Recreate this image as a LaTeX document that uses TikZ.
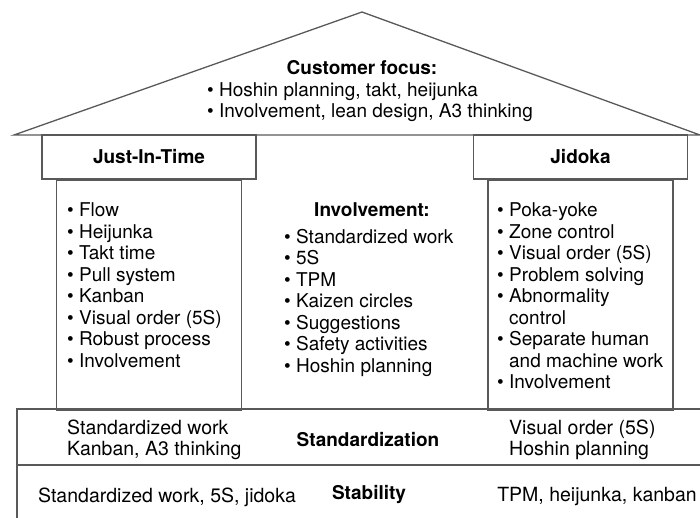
\documentclass[tikz,border=0pt]{standalone}
\usepackage{fontspec}
\setmainfont{TeX Gyre Heros}
\usetikzlibrary{positioning}
\newcommand{\bitem}{\textbullet\ }
\tikzstyle{ln} = [draw=black!65, line width=1.3pt]
\tikzstyle{hdr} = [rectangle, ln, minimum width=214pt, minimum height=44pt, text centered, font=\bfseries]
\tikzstyle{pillar} = [rectangle, ln, minimum width=185pt, minimum height=230pt]
\tikzstyle{lst} = [align=left, inner sep=0pt, anchor=west]
\tikzstyle{ttl} = [font=\bfseries, inner sep=0pt]
\tikzstyle{txt} = [inner sep=0pt]
\tikzstyle{base} = [font=\fontsize{19.5}{21.5}\selectfont]

\begin{document}
\fontsize{19}{21.5}\selectfont
\begin{tikzpicture}[x=1pt, y=-1pt]
	\useasboundingbox (0,0) rectangle (700,518);
	% roof
	\draw[ln, line join=miter] (14,135) -- (362,12) -- (700,135) -- cycle;
	\node[ttl](cust) at (362,68){Customer focus:};
	\node[lst](custitems) at (207,102){\bitem Hoshin planning, takt, heijunka\\ \bitem Involvement, lean design, A3 thinking};
	
	% pillars
	\node[hdr](jit) at (149,157){Just-In-Time};
	\node[hdr](jidoka) at (580.5,157){Jidoka};
	\node[pillar, below=0pt of jit](jitcol){};
	\node[pillar, below=0pt of jidoka](jidokacol){};
	\node[lst](jititems) at (67,285){\bitem Flow\\ \bitem Heijunka\\ \bitem Takt time\\ \bitem Pull system\\ \bitem Kanban\\ \bitem Visual order (5S)\\ \bitem Robust process\\ \bitem Involvement};
	\node[lst](jidokaitems) at (497,296){\bitem Poka-yoke\\ \bitem Zone control\\ \bitem Visual order (5S)\\ \bitem Problem solving\\ \bitem Abnormality\\ \phantom{\bitem}control\\ \bitem Separate human\\ \phantom{\bitem}and machine work\\ \bitem Involvement};
	
	% center
	\node[ttl](inv) at (372,210){Involvement:};
	\node[lst](invitems) at (284,302.5){\bitem Standardized work\\ \bitem 5S\\ \bitem TPM\\ \bitem Kaizen circles\\ \bitem Suggestions\\ \bitem Safety activities\\ \bitem Hoshin planning};
	
	% foundation
	\draw[ln] (700,409) -- (17,409) -- (17,518);
	\draw[ln] (17,465) -- (700,465);
	\node[lst, base](stdleft) at (67,440){Standardized work\\Kanban, A3 thinking};
	\node[ttl, base, font=\bfseries](std) at (368,440){Standardization};
	\node[lst, base](stdright) at (509,440){Visual order (5S)\\Hoshin planning};
	\node[txt, base](stableft) at (167,497){Standardized work, 5S, jidoka};
	\node[ttl, base, font=\bfseries](stab) at (369,494){Stability};
	\node[txt, base](stabright) at (597,497){TPM, heijunka, kanban};
\end{tikzpicture}
\end{document}
